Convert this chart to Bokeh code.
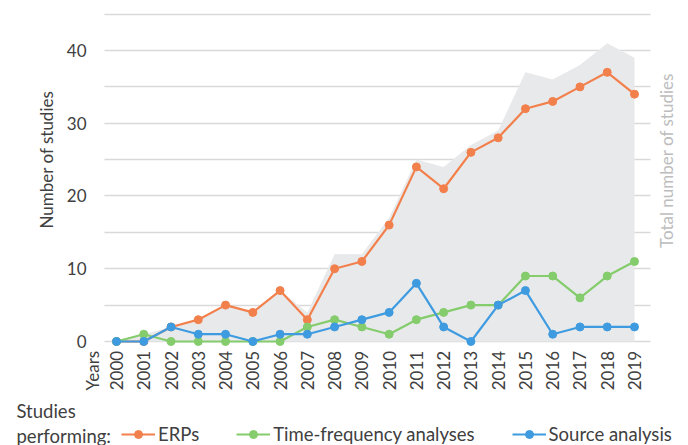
import math
from bokeh.plotting import figure
from bokeh.models import (FixedTicker, Legend, LegendItem, ColumnDataSource, Range1d, Label)
from bokeh.embed import file_html
from bokeh.resources import INLINE

years = list(range(2000, 2020))
total = [0, 1, 2, 3, 5, 4, 7, 4, 12, 12, 17, 25, 24, 27, 29, 37, 36, 38, 41, 39]
erps = [0, 0, 2, 3, 5, 4, 7, 3, 10, 11, 16, 24, 21, 26, 28, 32, 33, 35, 37, 34]
time_freq = [0, 1, 0, 0, 0, 0, 0, 2, 3, 2, 1, 3, 4, 5, 5, 9, 9, 6, 9, 11]
source = [0, 0, 2, 1, 1, 0, 1, 1, 2, 3, 4, 8, 2, 0, 5, 7, 1, 2, 2, 2]
y_major = [0, 10, 20, 30, 40]
y_minor = [5, 15, 25, 35, 45]
years_label_pos = 1999.12
plot_x = (1999.56, 2019.587)   # extent of the plotting area (grid lines)

FONT = "Lato"
ORANGE = "#F2804C"
GREEN = "#84CC6C"
BLUE = "#3F9BE0"
AREA = "#E8E9EB"
GRID = "#D9D9D9"
TEXT = "#404040"

W, H = 688, 445
src = ColumnDataSource(dict(year=years, total=total, erps=erps, tf=time_freq, src=source,
                            zero=[0] * len(years)))

p = figure(width=W, height=H, output_backend="svg", toolbar_location=None,
           x_range=Range1d(1995.745, 2020.981), y_range=Range1d(-14.296, 46.873),
           min_border=0)
p.outline_line_color = None
p.background_fill_color = "white"
p.border_fill_color = "white"

p.varea(x="year", y1="zero", y2="total", source=src, fill_color=AREA, fill_alpha=1)

rs = []
for col, c in (("erps", ORANGE), ("tf", GREEN), ("src", BLUE)):
    l = p.line(x="year", y=col, source=src, line_color=c, line_width=2.2)
    s = p.scatter(x="year", y=col, source=src, size=8, fill_color=c, line_color=c)
    rs.append((l, s))

# x axis (with "Years" as an extra label left of the first year)
xa = p.xaxis[0]
xa.fixed_location = -0.6
xa.ticker = FixedTicker(ticks=[years_label_pos] + years)
xa.major_label_overrides = {years_label_pos: "Years"}
xa.major_label_orientation = math.pi / 2
xa.axis_line_color = None
xa.major_tick_line_color = None
xa.minor_tick_line_color = None
xa.major_tick_out = 0
xa.minor_tick_out = 0
xa.major_label_standoff = 5
xa.major_label_text_font = FONT
xa.major_label_text_font_size = "17px"
xa.major_label_text_color = TEXT

ya = p.yaxis[0]
ya.fixed_location = plot_x[0]
ya.ticker = FixedTicker(ticks=y_major, minor_ticks=y_minor)
ya.axis_line_color = None
ya.major_tick_line_color = None
ya.minor_tick_line_color = None
ya.major_tick_out = 0
ya.minor_tick_out = 0
ya.major_label_standoff = 18
ya.major_label_text_font = FONT
ya.major_label_text_font_size = "17px"
ya.major_label_text_color = TEXT

p.xgrid.grid_line_color = None
p.ygrid.grid_line_color = GRID
p.ygrid.minor_grid_line_color = GRID
p.ygrid.grid_line_width = 1.3
p.ygrid.minor_grid_line_width = 1.3
p.ygrid.cross_bounds = plot_x


def lab(text, x, y, color=TEXT, angle=0.0, align="left", size="17px"):
    return Label(text=text, x=x, y=y, x_units="screen", y_units="screen", angle=angle,
                 text_align=align, text_baseline="middle", text_font=FONT,
                 text_font_size=size, text_color=color)


p.add_layout(lab("Number of studies", 46, H - 159, angle=math.pi / 2, align="center"))
p.add_layout(lab("Total number of studies", 666, H - 160, color="#BDBDBD",
                 angle=math.pi / 2, align="center"))
p.add_layout(lab("Studies", 16, H - 410, size="18.5px"))
p.add_layout(lab("performing:", 16, H - 435, size="18.5px"))

names = ["ERPs", "Time-frequency analyses", "Source analysis"]
legend = Legend(items=[LegendItem(label=n, renderers=list(r)) for n, r in zip(names, rs)],
                orientation="horizontal", location=(121, 0), padding=0, margin=0,
                spacing=37, glyph_width=34, glyph_height=20, label_standoff=3,
                label_text_font=FONT, label_text_font_size="18.5px", label_text_color=TEXT,
                background_fill_alpha=0, border_line_color=None)
p.add_layout(legend)

open("out.html", "w").write(file_html(p, INLINE))
